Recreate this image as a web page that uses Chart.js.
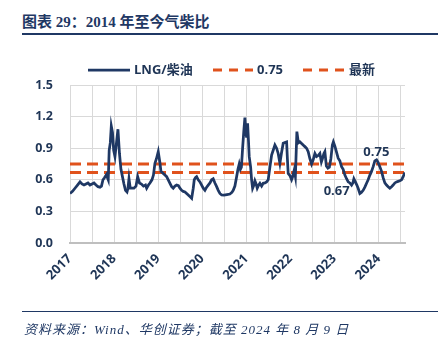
<!DOCTYPE html>
<html>
<head>
<meta charset="utf-8">
<script src="https://cdn.jsdelivr.net/npm/chart.js@4/dist/chart.umd.min.js"></script>
<style>
  html, body { margin: 0; padding: 0; background: #fff; }
  #wrap { position: relative; width: 438px; height: 346px; overflow: hidden; }
  #chart { position: absolute; left: 0; top: 0; }
  .title {
    position: absolute; left: 22px; top: 10px; margin: 0;
    font: bold 15px "Liberation Serif", "Noto Sans CJK SC", serif;
    color: #1f3864; white-space: nowrap;
  }
  .rule { position: absolute; left: 22px; width: 416px; background: #1f3864; }
  .source {
    position: absolute; left: 24px; top: 319px; margin: 0;
    font: italic 13px "Liberation Serif", "Noto Sans CJK SC", serif;
    letter-spacing: 1px;
    color: #1f3864; white-space: nowrap;
  }
</style>
</head>
<body>
<div id="wrap">
  <p class="title">图表 29：2014 年至今气柴比</p>
  <div class="rule" style="top:33px;height:2px"></div>
  <canvas id="chart" width="438" height="346"></canvas>
  <div class="rule" style="top:311px;height:1px"></div>
  <p class="source">资料来源：Wind、华创证券；截至 2024 年 8 月 9 日</p>
</div>
<script>
(() => {
  // weekly-ish samples, x in decimal years
  const weeks = [
    2017.000, 2017.057, 2017.113, 2017.170, 2017.227, 2017.272, 2017.317, 2017.363, 2017.408, 2017.454,
    2017.499, 2017.544, 2017.590, 2017.635, 2017.680, 2017.714, 2017.748, 2017.782, 2017.828, 2017.850,
    2017.868, 2017.889, 2017.914, 2017.937, 2017.964, 2017.991, 2018.020, 2018.054, 2018.088, 2018.122,
    2018.156, 2018.190, 2018.224, 2018.259, 2018.293, 2018.315, 2018.338, 2018.367, 2018.406, 2018.451,
    2018.497, 2018.535, 2018.576, 2018.621, 2018.667, 2018.712, 2018.739, 2018.780, 2018.814, 2018.859,
    2018.893, 2018.927, 2018.961, 2019.002, 2019.041, 2019.063, 2019.116, 2019.154, 2019.193, 2019.229,
    2019.268, 2019.306, 2019.342, 2019.381, 2019.420, 2019.460, 2019.494, 2019.533, 2019.569, 2019.608,
    2019.646, 2019.683, 2019.721, 2019.760, 2019.796, 2019.819, 2019.846, 2019.873, 2019.909, 2019.948,
    2019.986, 2020.023, 2020.061, 2020.100, 2020.136, 2020.175, 2020.213, 2020.249, 2020.288, 2020.327,
    2020.363, 2020.401, 2020.440, 2020.492, 2020.560, 2020.628, 2020.673, 2020.703, 2020.741, 2020.780,
    2020.810, 2020.839, 2020.866, 2020.889, 2020.916, 2020.941, 2020.968, 2020.991, 2021.007, 2021.029,
    2021.048, 2021.066, 2021.098, 2021.120, 2021.143, 2021.172, 2021.195, 2021.222, 2021.247, 2021.279,
    2021.308, 2021.347, 2021.383, 2021.422, 2021.460, 2021.497, 2021.535, 2021.574, 2021.610, 2021.649,
    2021.687, 2021.723, 2021.762, 2021.796, 2021.837, 2021.875, 2021.914, 2021.932, 2021.950, 2021.989,
    2022.027, 2022.045, 2022.086, 2022.113, 2022.147, 2022.181, 2022.215, 2022.254, 2022.290, 2022.329,
    2022.367, 2022.404, 2022.442, 2022.481, 2022.517, 2022.556, 2022.594, 2022.630, 2022.669, 2022.703,
    2022.726, 2022.760, 2022.782, 2022.816, 2022.850, 2022.884, 2022.918, 2022.952, 2022.975, 2023.009,
    2023.048, 2023.084, 2023.122, 2023.161, 2023.197, 2023.236, 2023.274, 2023.311, 2023.349, 2023.388,
    2023.417, 2023.440, 2023.474, 2023.508, 2023.537, 2023.576, 2023.610, 2023.651, 2023.689, 2023.728,
    2023.764, 2023.803, 2023.841, 2023.878, 2023.916, 2023.955, 2023.984, 2024.029, 2024.068, 2024.104,
    2024.143, 2024.181, 2024.218, 2024.256, 2024.295, 2024.331, 2024.370, 2024.408, 2024.444, 2024.483,
    2024.522, 2024.558, 2024.596
  ];

  const ratio = [
    0.47, 0.49, 0.52, 0.55, 0.58, 0.56, 0.55, 0.56, 0.57, 0.55,
    0.56, 0.57, 0.55, 0.535, 0.53, 0.54, 0.60, 0.62, 0.65, 0.62,
    0.60, 0.88, 0.95, 1.11, 1.05, 0.88, 0.82, 0.95, 1.08, 0.85,
    0.70, 0.63, 0.56, 0.50, 0.485, 0.52, 0.61, 0.52, 0.52, 0.52,
    0.54, 0.63, 0.57, 0.56, 0.54, 0.55, 0.52, 0.55, 0.57, 0.60,
    0.645, 0.757, 0.80, 0.867, 0.76, 0.68, 0.66, 0.645, 0.63, 0.60,
    0.567, 0.535, 0.52, 0.54, 0.55, 0.545, 0.52, 0.50, 0.49, 0.485,
    0.47, 0.456, 0.44, 0.424, 0.52, 0.60, 0.62, 0.63, 0.60, 0.58,
    0.55, 0.52, 0.50, 0.53, 0.55, 0.57, 0.60, 0.61, 0.57, 0.535,
    0.50, 0.47, 0.456, 0.455, 0.46, 0.465, 0.48, 0.50, 0.54, 0.63,
    0.70, 0.75, 0.70, 0.72, 0.90, 1.05, 1.19, 1.05, 1.00, 1.137,
    0.98, 0.82, 0.72, 0.60, 0.52, 0.55, 0.59, 0.56, 0.52, 0.55,
    0.567, 0.54, 0.567, 0.57, 0.58, 0.60, 0.72, 0.835, 0.88, 0.93,
    0.90, 0.85, 0.757, 0.85, 0.947, 0.955, 0.96, 0.80, 0.66, 0.64,
    0.60, 0.62, 0.69, 0.63, 1.057, 0.95, 0.96, 0.945, 0.93, 0.915,
    0.90, 0.867, 0.80, 0.75, 0.79, 0.85, 0.82, 0.83, 0.85, 0.77,
    0.80, 0.85, 0.867, 0.73, 0.71, 0.72, 0.80, 0.93, 0.96, 0.92,
    0.86, 0.805, 0.78, 0.725, 0.70, 0.645, 0.61, 0.58, 0.57, 0.55,
    0.57, 0.61, 0.58, 0.55, 0.52, 0.47, 0.48, 0.50, 0.53, 0.567,
    0.60, 0.645, 0.68, 0.725, 0.78, 0.79, 0.77, 0.725, 0.68, 0.62,
    0.57, 0.55, 0.535, 0.52, 0.535, 0.55, 0.57, 0.58, 0.585, 0.59,
    0.60, 0.63, 0.67
  ];

  const seriesNames = ['LNG/柴油', '0.75', '最新'];
  const refLevel = 0.75;
  const latest = ratio[ratio.length - 1];
  const xStart = 2017;
  const xEnd = 2024.6;

  const navy = '#1f3864';
  const orange = '#e0521c';
  const textColor = '#1f3556';

  const points = weeks.map((x, i) => ({ x, y: ratio[i] }));
  const flat = (v) => [{ x: xStart, y: v }, { x: xEnd, y: v }];

  const legendAndLabels = {
    id: 'legendAndLabels',
    afterDraw(chart) {
      const { ctx } = chart;
      const xs = chart.scales.x;
      const ys = chart.scales.y;
      ctx.save();
      ctx.font = 'bold 13px "Open Sans", "Noto Sans CJK SC", sans-serif';
      ctx.textBaseline = 'middle';
      ctx.fillStyle = textColor;

      // legend row
      const items = [
        { x0: 88, x1: 130, dash: [], color: navy, width: 2.75 },
        { x0: 213, x1: 253, dash: [9, 7], color: orange, width: 3 },
        { x0: 303, x1: 345, dash: [9, 7], color: orange, width: 3 }
      ];
      const ly = 70;
      items.forEach((it, i) => {
        ctx.beginPath();
        ctx.setLineDash(it.dash);
        ctx.strokeStyle = it.color;
        ctx.lineWidth = it.width;
        ctx.moveTo(it.x0, ly);
        ctx.lineTo(it.x1, ly);
        ctx.stroke();
        ctx.setLineDash([]);
        ctx.textAlign = 'left';
        ctx.fillText(seriesNames[i], it.x1 + 4, ly);
      });

      // value tags on the two reference lines
      ctx.textAlign = 'center';
      ctx.fillText(refLevel.toFixed(2), xs.getPixelForValue(2023.95), ys.getPixelForValue(refLevel) - 12);
      ctx.fillText(latest.toFixed(2), xs.getPixelForValue(2023.05), ys.getPixelForValue(latest) + 19);
      ctx.restore();
    }
  };

  new Chart(document.getElementById('chart'), {
    type: 'line',
    data: {
      datasets: [
        {
          label: seriesNames[0],
          data: points,
          borderColor: navy,
          borderWidth: 2.75,
          pointRadius: 0,
          tension: 0,
          order: 0
        },
        {
          label: seriesNames[1],
          data: flat(refLevel),
          borderColor: orange,
          borderWidth: 3,
          borderDash: [11, 6],
          pointRadius: 0,
          order: 1
        },
        {
          label: seriesNames[2],
          data: flat(latest),
          borderColor: orange,
          borderWidth: 3,
          borderDash: [11, 6],
          pointRadius: 0,
          order: 1
        }
      ]
    },
    options: {
      responsive: false,
      animation: false,
      layout: {
        autoPadding: false,
        padding: { top: 85, left: 10, right: 33, bottom: 63 }
      },
      plugins: {
        legend: { display: false },
        tooltip: { enabled: false }
      },
      scales: {
        x: {
          type: 'linear',
          min: xStart,
          max: xEnd,
          afterFit(scale) { scale.height = 40; },
          grid: { color: '#d9d9d9', lineWidth: 1, drawTicks: false },
          border: { color: '#bfbfbf', width: 2 },
          ticks: {
            stepSize: 0.5,
            includeBounds: false,
            autoSkip: false,
            maxRotation: 45,
            minRotation: 45,
            padding: 8,
            color: textColor,
            font: { family: '"Open Sans", sans-serif', size: 13, weight: 'bold' },
            callback: (v) => (Number.isInteger(v) ? String(v) : '')
          }
        },
        y: {
          min: 0,
          max: 1.5,
          afterFit(scale) { scale.width = 60; },
          grid: { color: '#d9d9d9', lineWidth: 1, drawTicks: false },
          border: { display: false },
          ticks: {
            stepSize: 0.3,
            padding: 17,
            color: textColor,
            font: { family: '"Open Sans", sans-serif', size: 12.5, weight: 'bold' },
            callback: (v) => v.toFixed(1)
          }
        }
      }
    },
    plugins: [legendAndLabels]
  });
})();
</script>
</body>
</html>
